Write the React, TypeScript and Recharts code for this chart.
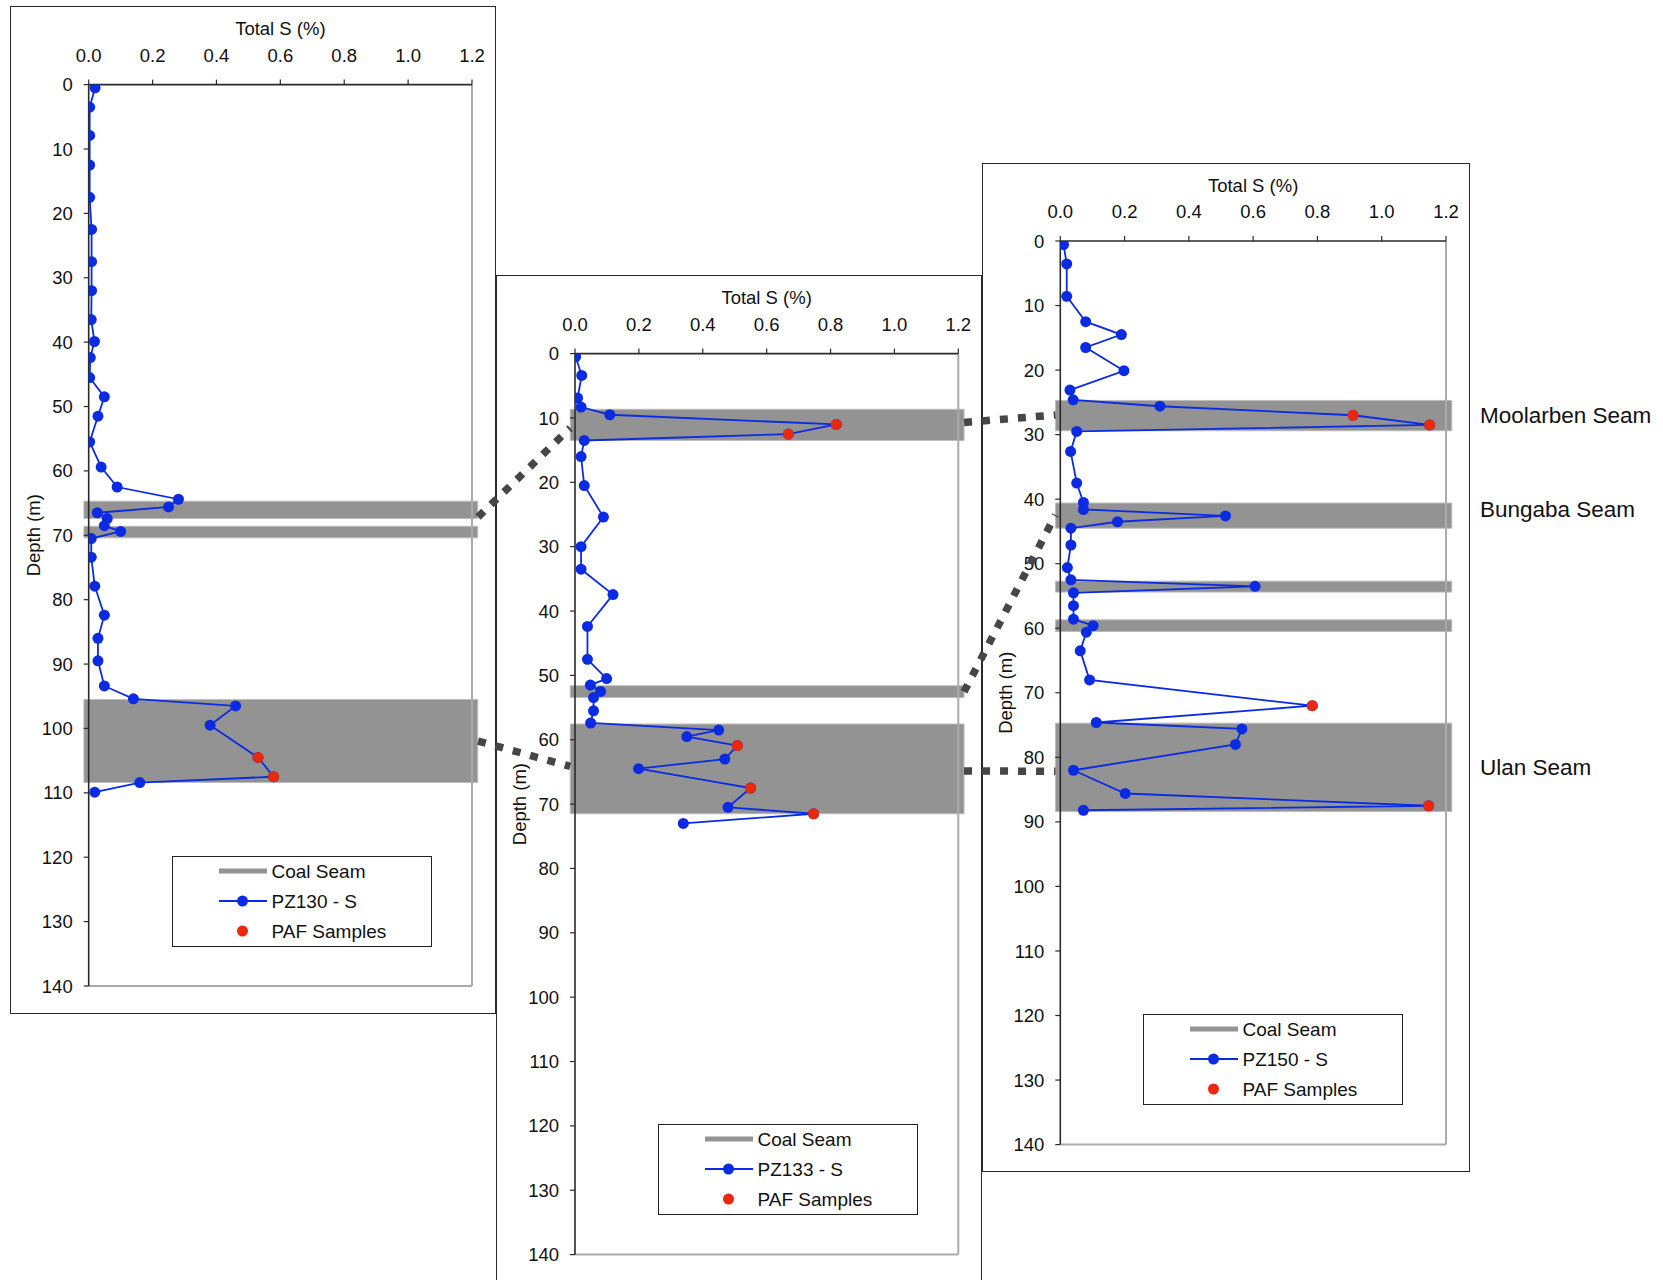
import React from 'react';
import { ScatterChart, Scatter, XAxis, YAxis, ReferenceArea, ReferenceLine } from 'recharts';

const FONT = '"Liberation Sans", Arial, Helvetica, sans-serif';
const BLUE = '#0b2be2';
const RED = '#e8290b';
const SEAM_GRAY = '#939393';

// ---------- data: [depth (m), total S (%)] ----------
const pz130: number[][] = [
  [0.5, 0.020], [3.5, 0.003], [7.9, 0.003], [12.5, 0.003], [17.5, 0.003], [22.5, 0.009],
  [27.5, 0.009], [32.0, 0.009], [36.5, 0.008], [39.9, 0.018], [42.4, 0.005], [45.5, 0.003],
  [48.5, 0.049], [51.5, 0.029], [55.5, 0.003], [59.4, 0.039], [62.5, 0.089], [64.4, 0.281],
  [65.6, 0.250], [66.5, 0.027], [67.4, 0.058], [68.5, 0.049], [69.4, 0.100], [70.5, 0.008],
  [73.4, 0.008], [77.9, 0.019], [82.4, 0.049], [86.0, 0.029], [89.5, 0.029], [93.4, 0.049],
  [95.4, 0.140], [96.5, 0.460], [99.5, 0.380], [104.5, 0.530], [107.5, 0.579], [108.4, 0.160],
  [109.9, 0.019],
];
const pz130Paf: number[][] = [[104.5, 0.530], [107.5, 0.579]];
const pz130Seams: number[][] = [[64.7, 67.4], [68.6, 70.4], [95.5, 108.4]];

const pz133: number[][] = [
  [0.5, 0.002], [3.4, 0.021], [6.9, 0.008], [8.3, 0.019], [9.5, 0.109], [11.0, 0.818],
  [12.5, 0.668], [13.5, 0.029], [16.0, 0.019], [20.5, 0.029], [25.4, 0.089], [30.0, 0.019],
  [33.5, 0.019], [37.45, 0.119], [42.4, 0.039], [47.5, 0.039], [50.5, 0.099], [51.5, 0.048],
  [52.5, 0.080], [53.45, 0.058], [55.5, 0.058], [57.4, 0.049], [58.5, 0.450], [59.5, 0.350],
  [60.9, 0.508], [63.0, 0.469], [64.5, 0.199], [67.5, 0.550], [70.5, 0.479], [71.5, 0.747],
  [73.0, 0.339],
];
const pz133Paf: number[][] = [[11.0, 0.818], [12.5, 0.668], [60.9, 0.508], [67.5, 0.550], [71.5, 0.747]];
const pz133Seams: number[][] = [[8.65, 13.5], [51.6, 53.45], [57.55, 71.5]];

const pz150: number[][] = [
  [0.56, 0.010], [3.56, 0.020], [8.57, 0.020], [12.5, 0.079], [14.5, 0.190], [16.5, 0.079],
  [20.1, 0.198], [23.1, 0.030], [24.6, 0.040], [25.6, 0.310], [27.0, 0.911], [28.5, 1.149],
  [29.5, 0.051], [32.6, 0.032], [37.5, 0.051], [40.5, 0.072], [41.6, 0.072], [42.6, 0.514],
  [43.5, 0.178], [44.5, 0.033], [47.1, 0.033], [50.6, 0.022], [52.5, 0.033], [53.5, 0.606],
  [54.5, 0.041], [56.5, 0.041], [58.6, 0.041], [59.6, 0.102], [60.6, 0.081], [63.5, 0.062],
  [68.0, 0.091], [72.0, 0.784], [74.6, 0.112], [75.6, 0.565], [78.0, 0.545], [82.0, 0.041],
  [85.6, 0.202], [87.5, 1.146], [88.2, 0.072],
];
const pz150Paf: number[][] = [[27.0, 0.911], [28.5, 1.149], [72.0, 0.784], [87.5, 1.146]];
const pz150Seams: number[][] = [[24.7, 29.4], [40.6, 44.5], [52.7, 54.4], [58.7, 60.5], [74.7, 88.4]];

const xTicks = [0, 0.2, 0.4, 0.6, 0.8, 1.0, 1.2];
const yTicks = [0, 10, 20, 30, 40, 50, 60, 70, 80, 90, 100, 110, 120, 130, 140];

const seamLabels = ['Moolarben Seam', 'Bungaba Seam', 'Ulan Seam'];
const seamLabelDepths = [27.0, 41.5, 81.6];

// connectors: [fromPanel, fromDepth, toPanel, toDepth]
const connectors: number[][] = [
  [0, 67.2, 1, 11.6],
  [0, 102.0, 1, 64.2],
  [1, 10.75, 2, 27.0],
  [1, 52.6, 2, 42.5],
  [1, 64.9, 2, 82.2],
];

// ---------- layout ----------
type PanelGeom = { boxL: number; boxT: number; boxW: number; boxH: number; plotL: number; plotT: number; plotW: number; plotH: number };
const panels: PanelGeom[] = [
  { boxL: 10.3, boxT: 5.7, boxW: 485.7, boxH: 1008.6, plotL: 89, plotT: 84.3, plotW: 383.3, plotH: 901.4 },
  { boxL: 496, boxT: 274.7, boxW: 486, boxH: 1012, plotL: 575, plotT: 353.3, plotW: 383.3, plotH: 901 },
  { boxL: 982, boxT: 162.7, boxW: 488, boxH: 1009.6, plotL: 1060.3, plotT: 240.7, plotW: 385.7, plotH: 903.6 },
];
const SEAM_X1 = -0.015;
const SEAM_X2 = 1.218;

const toPts = (arr: number[][]) => arr.map(([d, s]) => ({ d, s }));

const BlueDot = (props: any) => <circle cx={props.cx} cy={props.cy} r={5.5} fill={BLUE} />;
const RedDot = (props: any) => <circle cx={props.cx} cy={props.cy} r={5.5} fill={RED} />;

function LegendBox({ name, left, top }: { name: string; left: number; top: number }) {
  const txt = { fontFamily: FONT, fontSize: 19, fill: '#111' } as any;
  return (
    <div style={{ position: 'absolute', left, top, width: 260, height: 91, border: '1.3px solid #222', boxSizing: 'border-box', background: '#fff' }}>
      <svg width={258} height={89} style={{ position: 'absolute', left: 0, top: 0 }}>
        <line x1={46} x2={94} y1={14} y2={14} stroke={SEAM_GRAY} strokeWidth={5} />
        <text x={98.5} y={14} dy="0.355em" {...txt}>Coal Seam</text>
        <line x1={46} x2={94} y1={44} y2={44} stroke={BLUE} strokeWidth={1.8} />
        <circle cx={69.5} cy={44} r={5.5} fill={BLUE} />
        <text x={98.5} y={44} dy="0.355em" {...txt}>{name}</text>
        <circle cx={69.5} cy={74} r={5.5} fill={RED} />
        <text x={98.5} y={74} dy="0.355em" {...txt}>PAF Samples</text>
      </svg>
    </div>
  );
}

function Panel({ p, name, series, paf, seams }: { p: PanelGeom; name: string; series: number[][]; paf: number[][]; seams: number[][] }) {
  const mRight = p.boxL + p.boxW - (p.plotL + p.plotW);
  const mBottom = p.boxT + p.boxH - (p.plotT + p.plotH);
  const tickStyle = { fontSize: 18.5, fill: '#111', fontFamily: FONT };
  return (
    <div style={{ position: 'absolute', left: p.boxL, top: p.boxT, width: p.boxW, height: p.boxH, background: '#fff' }}>
      <ScatterChart
        width={p.boxW}
        height={p.boxH}
        margin={{ top: 0, left: 0, right: mRight, bottom: mBottom }}
        style={{ overflow: 'visible' }}
      >
        <XAxis
          type="number"
          dataKey="s"
          orientation="top"
          domain={[0, 1.2]}
          ticks={xTicks}
          allowDataOverflow
          tickFormatter={(v: number) => v.toFixed(1)}
          height={p.plotT - p.boxT}
          axisLine={{ stroke: '#2a2a2a', strokeWidth: 1.6 }}
          tickLine={{ stroke: '#2a2a2a', strokeWidth: 1.2 }}
          tickSize={5}
          tickMargin={18}
          tick={tickStyle}
          interval={0}
          label={{ value: 'Total S (%)', position: 'insideTop', offset: 16.3, fontSize: 18.5, fill: '#111', fontFamily: FONT }}
        />
        <YAxis
          type="number"
          dataKey="d"
          domain={[0, 140]}
          reversed
          ticks={yTicks}
          allowDataOverflow
          width={p.plotL - p.boxL}
          axisLine={{ stroke: '#2a2a2a', strokeWidth: 1.6 }}
          tickLine={{ stroke: '#2a2a2a', strokeWidth: 1.2 }}
          tickSize={5}
          tickMargin={11}
          tick={tickStyle}
          interval={0}
          label={{ value: 'Depth (m)', angle: -90, position: 'insideLeft', offset: 23, fontSize: 18.5, fill: '#111', fontFamily: FONT, style: { textAnchor: 'middle' } }}
        />
        <ReferenceLine x={1.2} stroke="#ababab" strokeWidth={2} ifOverflow="visible" />
        <ReferenceLine y={140} stroke="#ababab" strokeWidth={2} ifOverflow="visible" />
        {seams.map(([a, b], i) => (
          <ReferenceArea
            key={i}
            y1={a}
            y2={b}
            x1={SEAM_X1}
            x2={SEAM_X2}
            ifOverflow="visible"
            fill={SEAM_GRAY}
            fillOpacity={1}
            stroke="#bdbdbd"
            strokeWidth={1}
          />
        ))}
        <Scatter
          data={toPts(series)}
          line={{ stroke: BLUE, strokeWidth: 1.8 }}
          shape={BlueDot}
          isAnimationActive={false}
        />
        <Scatter data={toPts(paf)} shape={RedDot} isAnimationActive={false} />
      </ScatterChart>
      <LegendBox name={name} left={p.plotL + 83 - p.boxL} top={p.plotT + p.plotH - 39 - 91 - p.boxT} />
      <div style={{ position: 'absolute', left: 0, top: 0, width: p.boxW, height: p.boxH, border: '1.4px solid #2a2a2a', boxSizing: 'border-box', pointerEvents: 'none' }} />
    </div>
  );
}

const depthY = (pi: number, d: number) => panels[pi].plotT + (d / 140) * panels[pi].plotH;
const seamRightX = (pi: number) => panels[pi].plotL + (SEAM_X2 / 1.2) * panels[pi].plotW;
const seamLeftX = (pi: number) => panels[pi].plotL + (SEAM_X1 / 1.2) * panels[pi].plotW;

export default function App() {
  return (
    <div style={{ position: 'absolute', left: 0, top: 0, width: 1663, height: 1280, overflow: 'hidden', background: '#fff', fontFamily: FONT }}>
      <Panel p={panels[0]} name="PZ130 - S" series={pz130} paf={pz130Paf} seams={pz130Seams} />
      <Panel p={panels[1]} name="PZ133 - S" series={pz133} paf={pz133Paf} seams={pz133Seams} />
      <Panel p={panels[2]} name="PZ150 - S" series={pz150} paf={pz150Paf} seams={pz150Seams} />
      <svg width={1663} height={1280} style={{ position: 'absolute', left: 0, top: 0, pointerEvents: 'none' }}>
        {connectors.map(([fp, fd, tp, td], i) => (
          <line
            key={i}
            x1={seamRightX(fp)}
            y1={depthY(fp, fd)}
            x2={seamLeftX(tp)}
            y2={depthY(tp, td)}
            stroke="#464646"
            strokeWidth={7.5}
            strokeDasharray="8 10"
          />
        ))}
        {seamLabels.map((t, i) => (
          <text key={t} x={1480} y={depthY(2, seamLabelDepths[i])} dy="0.355em" fontSize={22.5} fontFamily={FONT} fill="#111">
            {t}
          </text>
        ))}
      </svg>
    </div>
  );
}
